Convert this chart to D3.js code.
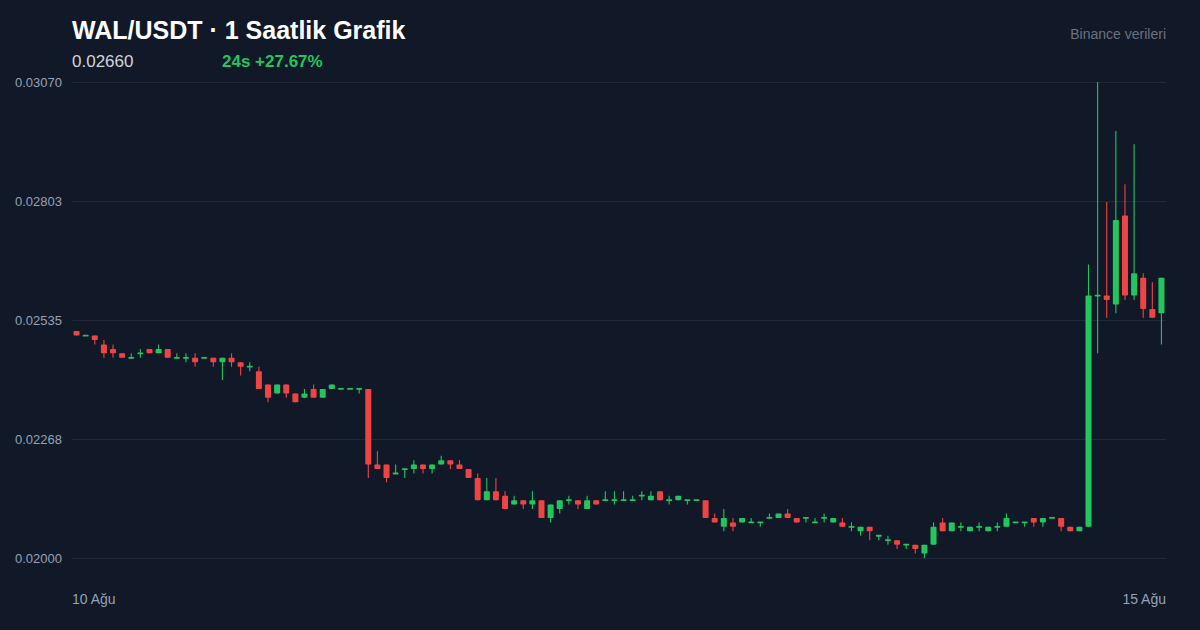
<!DOCTYPE html>
<html><head><meta charset="utf-8">
<script src="https://cdn.jsdelivr.net/npm/d3@7"></script>
<style>html,body{margin:0;padding:0;background:#111827;}svg{display:block;font-family:"Liberation Sans",Arial,Helvetica,sans-serif;}</style>
</head><body><svg id="c" width="1200" height="630"></svg>
<script>
// 120 hourly candles, 10 Ağu -> 15 Ağu
const opens = [0.0251,0.0250,0.0250,0.0248,0.0247,0.0246,0.0245,0.0246,0.0247,0.0246,
0.0247,0.0245,0.0245,0.0245,0.0245,0.0245,0.0244,0.0245,0.0244,0.0243,
0.0242,0.0239,0.0237,0.0239,0.0237,0.0236,0.0238,0.0236,0.0238,0.0238,
0.0238,0.0238,0.0238,0.0221,0.0221,0.0219,0.0220,0.0220,0.0221,0.0220,
0.0221,0.0222,0.0221,0.0220,0.0218,0.0213,0.0215,0.0214,0.0212,0.0213,
0.0212,0.0213,0.0209,0.0211,0.0213,0.0213,0.0211,0.0213,0.0213,0.0213,
0.0213,0.0213,0.0214,0.0213,0.0215,0.0213,0.0213,0.0213,0.0213,0.0213,
0.0209,0.0207,0.0208,0.0208,0.0208,0.0208,0.0209,0.0209,0.0210,0.0209,
0.0209,0.0208,0.0209,0.0208,0.0208,0.0207,0.0206,0.0207,0.0205,0.0204,
0.0204,0.0203,0.0203,0.0201,0.0203,0.0208,0.0206,0.0207,0.0206,0.0207,
0.0206,0.0207,0.0207,0.0208,0.0208,0.0209,0.0208,0.0209,0.0209,0.0207,
0.0206,0.0207,0.0259,0.0259,0.0257,0.0277,0.0259,0.0263,0.0256,0.0255];
const highs = [0.0251,0.0250,0.0250,0.0249,0.0248,0.0246,0.0246,0.0247,0.0247,0.0248,
0.0247,0.0246,0.0246,0.0246,0.0245,0.0245,0.0245,0.0246,0.0244,0.0244,
0.0243,0.0239,0.0239,0.0239,0.0237,0.0238,0.0239,0.0238,0.0239,0.0238,
0.0238,0.0238,0.0238,0.0224,0.0221,0.0221,0.0220,0.0222,0.0221,0.0221,
0.0223,0.0222,0.0222,0.0220,0.0219,0.0218,0.0218,0.0215,0.0214,0.0213,
0.0215,0.0213,0.0212,0.0213,0.0214,0.0213,0.0214,0.0213,0.0215,0.0215,
0.0215,0.0214,0.0215,0.0215,0.0215,0.0214,0.0214,0.0213,0.0213,0.0213,
0.0210,0.0211,0.0209,0.0209,0.0209,0.0208,0.0210,0.0210,0.0211,0.0209,
0.0209,0.0209,0.0210,0.0209,0.0209,0.0208,0.0207,0.0207,0.0205,0.0205,
0.0204,0.0203,0.0203,0.0203,0.0208,0.0209,0.0208,0.0208,0.0207,0.0208,
0.0207,0.0208,0.0210,0.0208,0.0208,0.0209,0.0209,0.0209,0.0209,0.0207,
0.0207,0.0266,0.0307,0.0280,0.0296,0.0284,0.0293,0.0264,0.0262,0.0263];
const lows = [0.0250,0.0250,0.0248,0.0245,0.0245,0.0245,0.0245,0.0245,0.0246,0.0246,
0.0245,0.0245,0.0244,0.0243,0.0245,0.0243,0.0240,0.0243,0.0241,0.0242,
0.0238,0.0235,0.0237,0.0236,0.0235,0.0236,0.0236,0.0236,0.0238,0.0238,
0.0238,0.0237,0.0218,0.0220,0.0217,0.0219,0.0218,0.0219,0.0219,0.0219,
0.0221,0.0220,0.0220,0.0218,0.0213,0.0213,0.0213,0.0211,0.0212,0.0211,
0.0211,0.0209,0.0208,0.0210,0.0212,0.0211,0.0211,0.0212,0.0213,0.0212,
0.0213,0.0213,0.0213,0.0213,0.0213,0.0212,0.0213,0.0212,0.0213,0.0209,
0.0208,0.0206,0.0206,0.0208,0.0208,0.0207,0.0209,0.0209,0.0209,0.0208,
0.0208,0.0208,0.0208,0.0208,0.0207,0.0206,0.0205,0.0204,0.0204,0.0203,
0.0202,0.0202,0.0201,0.0200,0.0203,0.0206,0.0206,0.0206,0.0206,0.0206,
0.0206,0.0206,0.0207,0.0208,0.0207,0.0207,0.0207,0.0209,0.0206,0.0206,
0.0206,0.0207,0.0246,0.0254,0.0255,0.0258,0.0258,0.0254,0.0254,0.0248];
const closes = [0.0250,0.0250,0.0249,0.0246,0.0246,0.0245,0.0245,0.0246,0.0246,0.0247,
0.0245,0.0245,0.0245,0.0244,0.0245,0.0244,0.0245,0.0244,0.0243,0.0243,
0.0238,0.0236,0.0239,0.0237,0.0235,0.0237,0.0236,0.0238,0.0239,0.0238,
0.0238,0.0238,0.0221,0.0220,0.0218,0.0219,0.0220,0.0221,0.0220,0.0221,
0.0222,0.0221,0.0220,0.0218,0.0213,0.0215,0.0213,0.0211,0.0213,0.0212,
0.0213,0.0209,0.0212,0.0213,0.0213,0.0212,0.0213,0.0212,0.0213,0.0213,
0.0213,0.0213,0.0214,0.0214,0.0213,0.0213,0.0214,0.0213,0.0213,0.0209,
0.0208,0.0209,0.0207,0.0209,0.0208,0.0208,0.0209,0.0210,0.0209,0.0208,
0.0209,0.0208,0.0209,0.0209,0.0207,0.0207,0.0207,0.0206,0.0205,0.0204,
0.0203,0.0203,0.0202,0.0203,0.0207,0.0206,0.0208,0.0207,0.0207,0.0207,
0.0207,0.0207,0.0209,0.0208,0.0208,0.0208,0.0209,0.0209,0.0207,0.0206,
0.0207,0.0259,0.0259,0.0258,0.0276,0.0259,0.0264,0.0256,0.0254,0.0263];

const yTickValues = [0.02000, 0.022675, 0.02535, 0.028025, 0.03070];
const yTickLabels = ["0.02000", "0.02268", "0.02535", "0.02803", "0.03070"];
const xTickLabels = ["10 Ağu", "15 Ağu"];
const titleText = "WAL/USDT · 1 Saatlik Grafik";
const priceText = "0.02660";
const changeText = "24s +27.67%";
const sourceText = "Binance verileri";

const W = 1200, H = 630;
const M = {left: 72, right: 1166, top: 82, bottom: 558};
const GREEN = "#22c55e", RED = "#ef4444";
const LABEL = "#94a3b8";

const svg = d3.select("#c");
svg.append("rect").attr("width", W).attr("height", H).attr("fill", "#111827");

const idx = d3.range(opens.length);
const x = d3.scaleBand().domain(idx).range([M.left, M.right]).paddingInner(0.34).paddingOuter(0.17);
const y = d3.scaleLinear().domain([yTickValues[0], yTickValues[yTickValues.length-1]]).range([M.bottom, M.top]);

// grid + y labels
const yAxis = d3.axisLeft(y).tickValues(yTickValues).tickFormat((d,i) => yTickLabels[i]).tickSize(-(M.right - M.left)).tickPadding(10);
const gy = svg.append("g").attr("transform", `translate(${M.left},0)`).call(yAxis);
gy.select(".domain").remove();
gy.selectAll(".tick line").attr("stroke", "#1f2937").attr("stroke-width", 1.2);
gy.selectAll(".tick text").attr("fill", LABEL).attr("font-size", 13).attr("font-family", "Liberation Sans, Arial, sans-serif");

// x labels
const xPos = d3.scalePoint().domain(xTickLabels).range([M.left, M.right]);
svg.selectAll(".xl").data(xTickLabels).enter().append("text")
  .attr("x", d => xPos(d)).attr("y", 604)
  .attr("text-anchor", (d,i) => i === 0 ? "start" : "end")
  .attr("fill", LABEL).attr("font-size", 14).text(d => d);

// candles
const bw = x.bandwidth();
const g = svg.append("g");
const col = i => closes[i] >= opens[i] ? GREEN : RED;
g.selectAll(".wick").data(idx).enter().append("line")
  .attr("x1", i => x(i) + bw/2).attr("x2", i => x(i) + bw/2)
  .attr("y1", i => y(highs[i])).attr("y2", i => y(lows[i]))
  .attr("stroke", col).attr("stroke-width", 1.1);
g.selectAll(".body").data(idx).enter().append("rect")
  .attr("x", i => x(i)).attr("width", bw)
  .attr("y", i => {
    const t = y(Math.max(opens[i], closes[i])), b = y(Math.min(opens[i], closes[i]));
    return b - t < 1.8 ? (t + b)/2 - 0.9 : t;
  })
  .attr("height", i => Math.max(1.8, y(Math.min(opens[i], closes[i])) - y(Math.max(opens[i], closes[i]))))
  .attr("rx", 0.8)
  .attr("fill", col);

// header
svg.append("text").attr("x", 72).attr("y", 39).attr("fill", "#ffffff").attr("font-size", 25).attr("font-weight", "bold").text(titleText);
svg.append("text").attr("x", 72).attr("y", 67).attr("fill", "#d1d5db").attr("font-size", 17).text(priceText);
svg.append("text").attr("x", 222).attr("y", 67).attr("fill", GREEN).attr("font-size", 17).attr("font-weight", "bold").text(changeText);
svg.append("text").attr("x", 1166).attr("y", 39).attr("text-anchor", "end").attr("fill", "#6b7280").attr("font-size", 14).text(sourceText);
</script></body></html>
